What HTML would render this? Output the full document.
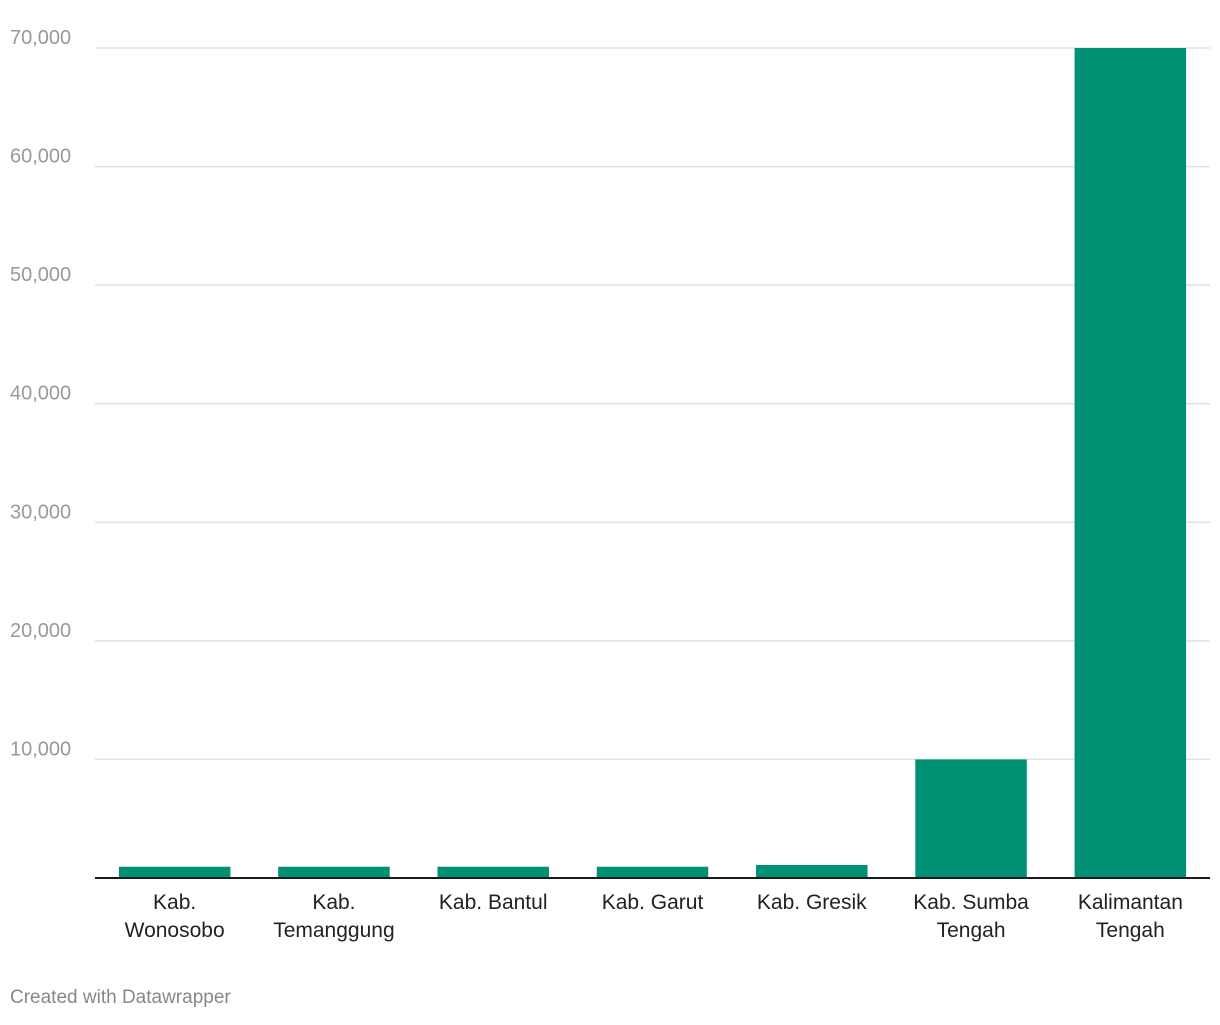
<!DOCTYPE html>
<html><head><meta charset="utf-8"><style>
body{margin:0;background:#fff;font-family:"Liberation Sans",Arial,sans-serif}
svg text{font-family:"Liberation Sans",Arial,sans-serif}
</style></head><body>
<svg id="chart" width="1220" height="1020" xmlns="http://www.w3.org/2000/svg">
<g id="grid"></g><g id="bars"></g><g id="xlabels"></g>
<line x1="95" x2="1210" y1="878" y2="878" stroke="#1a1a1a" stroke-width="2"/>
<text x="10" y="1003" font-size="19" fill="#888">Created with Datawrapper</text>
</svg>
<script>
const categories=[["Kab.","Wonosobo"],["Kab.","Temanggung"],["Kab. Bantul"],["Kab. Garut"],["Kab. Gresik"],["Kab. Sumba","Tengah"],["Kalimantan","Tengah"]];
const values=[950,950,950,950,1100,10000,70000];
const ticks=[10000,20000,30000,40000,50000,60000,70000];
const tickLabels=["10,000","20,000","30,000","40,000","50,000","60,000","70,000"];
const NS="http://www.w3.org/2000/svg";
const x0=95,x1=1210,y0=878,yTop=48,maxV=70000;
const y=v=>y0-(v/maxV)*(y0-yTop);
const step=(x1-x0)/categories.length;
const bw=step*0.7;
const grid=document.getElementById('grid');
ticks.forEach((t,i)=>{
 const l=document.createElementNS(NS,'line');
 
 
 l.setAttribute('x1',95);l.setAttribute('x2',1210);l.setAttribute('y1',y(t));l.setAttribute('y2',y(t));
 l.setAttribute('stroke','#e0e0e0');l.setAttribute('stroke-width','1.5');
 grid.appendChild(l);
 const tx=document.createElementNS(NS,'text');
 
 
 tx.setAttribute('x',10);tx.setAttribute('y',y(t)-4);tx.setAttribute('font-size','20');tx.setAttribute('fill','#999');
 tx.textContent=tickLabels[i];grid.appendChild(tx);
});
const bars=document.getElementById('bars'),xl=document.getElementById('xlabels');
values.forEach((v,i)=>{
 const cx=x0+step*(i+0.5);
 const r=document.createElementNS(NS,'rect');
 
 
 r.setAttribute('x',cx-bw/2);r.setAttribute('width',bw);r.setAttribute('y',y(v));r.setAttribute('height',y0-y(v));
 r.setAttribute('fill','#009175');bars.appendChild(r);
 categories[i].forEach((line,j)=>{
  const t=document.createElementNS(NS,'text');
  
  
  t.setAttribute('x',cx);t.setAttribute('y',909+j*28);t.setAttribute('font-size','21');t.setAttribute('fill','#222');t.setAttribute('text-anchor','middle');
  t.textContent=line;xl.appendChild(t);
 });
});
</script>
</body></html>
